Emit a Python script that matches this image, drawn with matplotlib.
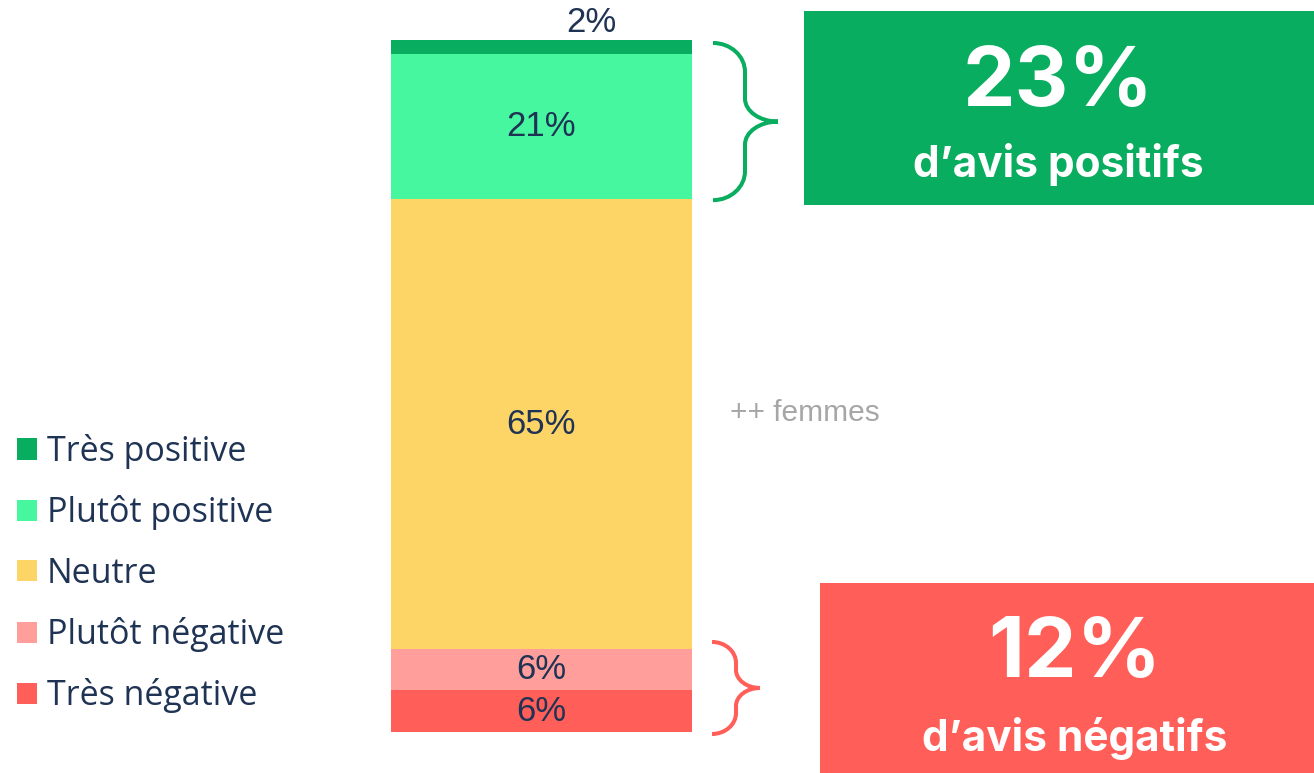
import numpy as np
import matplotlib
matplotlib.use("Agg")
import matplotlib.pyplot as plt
from matplotlib.patches import Rectangle, PathPatch, Patch
from matplotlib.path import Path

# stacked from bottom to top
categories = ["Très négative", "Plutôt négative", "Neutre", "Plutôt positive", "Très positive"]
values = [6, 6, 65, 21, 2]
colors = ["#FF5F58", "#FF9E9B", "#FDD567", "#47F7A0", "#09AD5F"]
labels = ["6%", "6%", "65%", "21%", "2%"]

positive_total = "23%"
negative_total = "12%"
note = "++ femmes"

NAVY = "#1F3354"
W, H = 1314, 773

fig = plt.figure(figsize=(W / 100, H / 100), dpi=100)

# overlay in pixel coordinates for the annotations
ov = fig.add_axes([0, 0, 1, 1])
ov.set_xlim(0, W)
ov.set_ylim(H, 0)
ov.axis("off")

# bar axes
bar_left, bar_right, bar_top, bar_bottom = 391, 692, 40, 732
ax = fig.add_axes([bar_left / W, 1 - bar_bottom / H,
                   (bar_right - bar_left) / W, (bar_bottom - bar_top) / H])
ax.set_xlim(-0.5, 0.5)
ax.set_ylim(0, sum(values))
ax.axis("off")

bottoms = np.concatenate([[0], np.cumsum(values)[:-1]])
for v, b, c, cat in zip(values, bottoms, colors, categories):
    ax.bar(0, v, bottom=b, width=1.0, color=c, label=cat, linewidth=0)

for v, b, lab in zip(values, bottoms, labels):
    if v < 4:
        # small segment: label sits above the bar
        ax.text(0.165, b + v + 2.5, lab, ha="center", va="center", fontsize=25,
                color=NAVY, family="Liberation Sans", clip_on=False)
    else:
        ax.text(0, b + v / 2, lab, ha="center", va="center", fontsize=25,
                color=NAVY, family="Liberation Sans")


def to_px(v):
    return bar_bottom - v / sum(values) * (bar_bottom - bar_top)


def brace(y0, y1, x0, xv, xt, ry1, ry2, color):
    k = 0.552
    ym = (y0 + y1) / 2
    rx1 = xv - x0
    rx2 = xt - xv
    verts = [
        (x0, y0),
        (x0 + k * rx1, y0), (xv, y0 + ry1 - k * ry1), (xv, y0 + ry1),
        (xv, ym - ry2),
        (xv, ym - ry2 + k * ry2), (xt - k * rx2, ym), (xt, ym),
        (xt - k * rx2, ym), (xv, ym + ry2 - k * ry2), (xv, ym + ry2),
        (xv, y1 - ry1),
        (xv, y1 - ry1 + k * ry1), (x0 + k * rx1, y1), (x0, y1),
    ]
    codes = [Path.MOVETO,
             Path.CURVE4, Path.CURVE4, Path.CURVE4,
             Path.LINETO,
             Path.CURVE4, Path.CURVE4, Path.CURVE4,
             Path.CURVE4, Path.CURVE4, Path.CURVE4,
             Path.LINETO,
             Path.CURVE4, Path.CURVE4, Path.CURVE4]
    ov.add_patch(PathPatch(Path(verts, codes), fill=False, edgecolor=color,
                           linewidth=2.9, capstyle="butt"))


pos_share = values[3] + values[4]
neg_share = values[0] + values[1]

BOX_FONT = "Inter"

# positive brace + box
brace(to_px(sum(values)) + 3, to_px(sum(values) - pos_share) + 1,
      713, 745, 778, 29, 23, colors[4])
ov.add_patch(Rectangle((804, 11), W - 804, 194, color=colors[4], linewidth=0))
ov.text(1058, 84, positive_total, ha="center", va="center", fontsize=60,
        fontweight="bold", color="white", family=BOX_FONT)
ov.text(1058, 165, "d\u2019avis positifs", ha="center", va="center", fontsize=30.5,
        fontweight="bold", color="white", family=BOX_FONT)

# negative brace + box
brace(to_px(neg_share) - 7, to_px(0) + 2, 712, 736, 760, 21, 18, colors[0])
ov.add_patch(Rectangle((820, 583), W - 820, H - 583, color=colors[0], linewidth=0))
ov.text(1075, 655, negative_total, ha="center", va="center", fontsize=60,
        fontweight="bold", color="white", family=BOX_FONT)
ov.text(1075, 738, "d\u2019avis négatifs", ha="center", va="center", fontsize=30.5,
        fontweight="bold", color="white", family=BOX_FONT)

ov.text(730, 413, note, ha="left", va="center", fontsize=21.5, color="#A6A6A6",
        family="Liberation Sans")

# legend, top category first
handles = [Patch(facecolor=c, edgecolor="none") for c in colors[::-1]]
leg = fig.legend(handles, categories[::-1], loc="upper left",
                 bbox_to_anchor=(17 / W, 1 - 434 / H), frameon=False,
                 handlelength=0.58, handleheight=0.58,
                 handletextpad=0.3, labelspacing=0.775, borderpad=0,
                 borderaxespad=0, prop={"family": "Open Sans", "size": 24.5})
for t in leg.get_texts():
    t.set_color(NAVY)

fig.savefig("out.png", dpi=100)
